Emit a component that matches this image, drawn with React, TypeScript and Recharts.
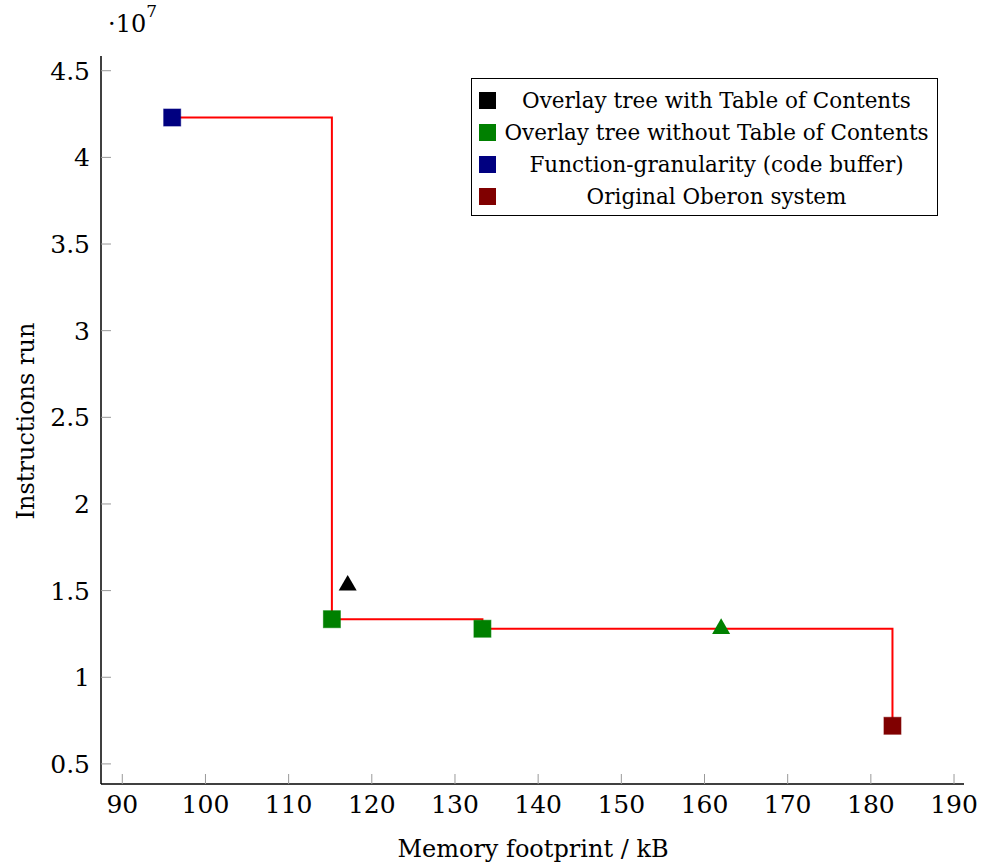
import { ComposedChart, Line, Scatter, XAxis, YAxis, Legend } from 'recharts'

const FONT = '"DejaVu Serif", serif'

// red frontier (step line)
const frontierX = [96, 115.2, 133.3, 182.6]
const frontierY = [4.23e7, 1.335e7, 1.28e7, 0.72e7]

const withTocX = [117.1]
const withTocY = [1.53e7]

const withoutTocSquareX = [115.2, 133.3]
const withoutTocSquareY = [1.335e7, 1.28e7]
const withoutTocTriX = [162]
const withoutTocTriY = [1.28e7]

const functionX = [96]
const functionY = [4.23e7]

const oberonX = [182.6]
const oberonY = [0.72e7]

const xTicks = [90, 100, 110, 120, 130, 140, 150, 160, 170, 180, 190]
const yTicks = [0.5e7, 1e7, 1.5e7, 2e7, 2.5e7, 3e7, 3.5e7, 4e7, 4.5e7]

const legendItems = [
  { name: 'Overlay tree with Table of Contents', color: '#000000' },
  { name: 'Overlay tree without Table of Contents', color: '#008000' },
  { name: 'Function-granularity (code buffer)', color: '#000080' },
  { name: 'Original Oberon system', color: '#800000' },
]

const zip = (xs: number[], ys: number[]) => xs.map((x, i) => ({ x, y: ys[i] }))

const square = (color: string) => (props: any) => {
  const { cx, cy } = props
  return <rect x={cx - 8.5} y={cy - 8.5} width={17} height={17} fill={color} stroke={color} strokeOpacity={0.6} />
}

const triangle = (color: string) => (props: any) => {
  const { cx, cy } = props
  const r = 10.4
  const pts = `${cx},${cy - r} ${cx + r * 0.866},${cy + r * 0.5} ${cx - r * 0.866},${cy + r * 0.5}`
  return <polygon points={pts} fill={color} />
}

const XTick = (props: any) => (
  <text x={props.x} y={props.y} dy="0.71em" textAnchor="middle" style={{ fontFamily: FONT, fontSize: 25 }} fill="#000">
    {props.payload.value}
  </text>
)

const YTick = (props: any) => (
  <text x={props.x} y={props.y} dy="0.36em" textAnchor="end" style={{ fontFamily: FONT, fontSize: 25 }} fill="#000">
    {String(props.payload.value / 1e7)}
  </text>
)

const renderLegend = () => (
  <div style={{ border: '1px solid #000', background: '#fff', width: 467, height: 138, boxSizing: 'border-box', paddingTop: 5, fontFamily: FONT, fontSize: 21.5, color: '#000' }}>
    {legendItems.map((item) => (
      <div key={item.name} style={{ display: 'flex', alignItems: 'center', height: 32 }}>
        <span style={{ width: 17, height: 17, background: item.color, marginLeft: 7, flexShrink: 0 }} />
        <span style={{ flex: 1, textAlign: 'center', whiteSpace: 'nowrap' }}>{item.name}</span>
      </div>
    ))}
  </div>
)

export default function App() {
  return (
    <div style={{ position: 'absolute', left: 0, top: 0, width: 982, height: 865, background: '#fff' }}>
      <ComposedChart width={982} height={865} margin={{ top: 56, right: 18, bottom: 0, left: 0 }}>
        <XAxis
          xAxisId="b"
          dataKey="x"
          type="number"
          domain={[87.44, 191.2]}
          ticks={xTicks}
          allowDataOverflow
          height={81}
          axisLine={{ stroke: '#000', strokeWidth: 1.5 }}
          tickLine={{ stroke: '#999' }}
          tickSize={-10}
          tickMargin={21}
          tick={<XTick />}
        />
        <XAxis
          xAxisId="t"
          orientation="top"
          dataKey="x"
          type="number"
          domain={[87.44, 191.2]}
          ticks={xTicks}
          allowDataOverflow
          height={0}
          axisLine={{ stroke: '#000', strokeWidth: 1.5 }}
          tickLine={{ stroke: '#999' }}
          tickSize={-10}
          tick={false}
        />
        <YAxis
          yAxisId="l"
          type="number"
          domain={[0.384e7, 4.585e7]}
          ticks={yTicks}
          allowDataOverflow
          width={101}
          axisLine={{ stroke: '#000', strokeWidth: 1.5 }}
          tickLine={{ stroke: '#999' }}
          tickSize={-10}
          tickMargin={21}
          tick={<YTick />}
        />
        <YAxis
          yAxisId="r"
          orientation="right"
          type="number"
          domain={[0.384e7, 4.585e7]}
          ticks={yTicks}
          allowDataOverflow
          width={0}
          axisLine={{ stroke: '#000', strokeWidth: 1.5 }}
          tickLine={{ stroke: '#999' }}
          tickSize={-10}
          tick={false}
        />
        <Legend
          layout="vertical"
          align="center"
          verticalAlign="middle"
          content={renderLegend}
          wrapperStyle={{ left: 471, top: 78, width: 467, height: 138 }}
        />
        <Line
          xAxisId="b"
          yAxisId="l"
          data={zip(frontierX, frontierY)}
          dataKey="y"
          type="stepAfter"
          stroke="#ff0000"
          strokeWidth={2}
          dot={false}
          activeDot={false}
          isAnimationActive={false}
          legendType="none"
        />
        <Scatter xAxisId="b" yAxisId="l" data={zip(withTocX, withTocY)} dataKey="y" shape={triangle('#000000')} isAnimationActive={false} />
        <Scatter xAxisId="b" yAxisId="l" data={zip(withoutTocSquareX, withoutTocSquareY)} dataKey="y" shape={square('#008000')} isAnimationActive={false} />
        <Scatter xAxisId="b" yAxisId="l" data={zip(withoutTocTriX, withoutTocTriY)} dataKey="y" shape={triangle('#008000')} isAnimationActive={false} />
        <Scatter xAxisId="b" yAxisId="l" data={zip(functionX, functionY)} dataKey="y" shape={square('#000080')} isAnimationActive={false} />
        <Scatter xAxisId="b" yAxisId="l" data={zip(oberonX, oberonY)} dataKey="y" shape={square('#800000')} isAnimationActive={false} />
      </ComposedChart>
      <div style={{ position: 'absolute', left: 533, top: 856, transform: 'translate(-50%, -80%)', fontFamily: FONT, fontSize: 24, color: '#000', whiteSpace: 'nowrap', lineHeight: 1 }}>
        Memory footprint / kB
      </div>
      <div style={{ position: 'absolute', left: 26, top: 421, transform: 'translate(-50%, -50%) rotate(-90deg)', fontFamily: FONT, fontSize: 24, color: '#000', whiteSpace: 'nowrap', lineHeight: 1 }}>
        Instructions run
      </div>
      <div style={{ position: 'absolute', left: 108, top: 12, fontFamily: FONT, fontSize: 24, color: '#000', lineHeight: 1 }}>
        ·10<sup style={{ fontSize: 17, verticalAlign: 'top', position: 'relative', top: -9 }}>7</sup>
      </div>
    </div>
  )
}
